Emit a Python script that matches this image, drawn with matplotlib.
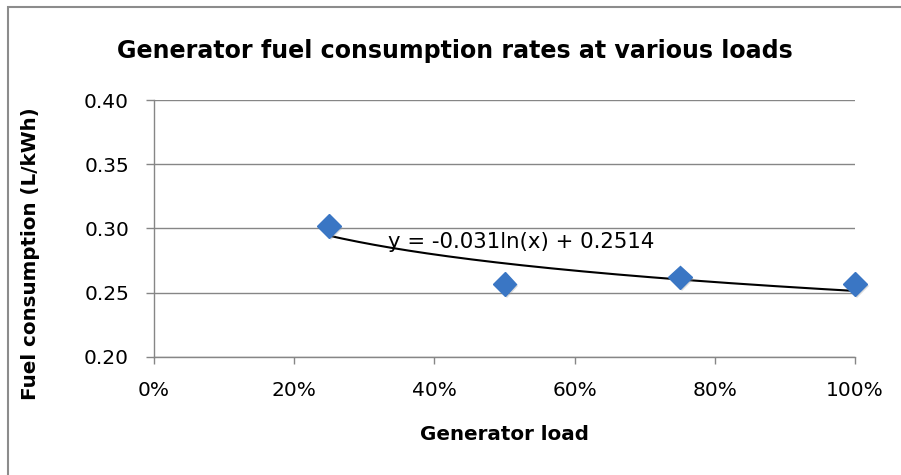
import numpy as np
import matplotlib
matplotlib.use('Agg')
import matplotlib.pyplot as plt
import matplotlib.patheffects as pe
from matplotlib.ticker import PercentFormatter, MultipleLocator
from matplotlib.patches import Rectangle

# datos
carga = [0.25, 0.50, 0.75, 1.00]
consumo = [0.302, 0.257, 0.262, 0.257]

# linea de tendencia logaritmica (coeficientes de la ecuacion mostrada)
coef_a = -0.031
coef_b = 0.2514
texto_tendencia = 'y = -0.031ln(x) + 0.2514'

plt.rcParams['font.family'] = ['DejaVu Sans']

W, H = 901, 475
fig = plt.figure(figsize=(W / 100, H / 100), dpi=100)
ax = fig.add_axes([154 / W, 1 - 357 / H, 701 / W, 257 / H])

# borde exterior del grafico
fig.patches.append(Rectangle((8 / W, -0.1), 2, 1 - 7 / H + 0.1, transform=fig.transFigure,
                             fill=False, edgecolor='#8c8c8c', linewidth=1.5))

gris = '#868686'
ax.grid(axis='y', color=gris, linewidth=1)
ax.set_axisbelow(True)

x_tend = np.linspace(carga[0], carga[-1], 200)
ax.plot(x_tend, coef_a * np.log(x_tend) + coef_b, color='black', linewidth=1.5, zorder=2)

ax.plot(carga, consumo, linestyle='none', marker='D', markersize=12, color='#3a76c4',
        markeredgecolor='#3a76c4', zorder=3, clip_on=False,
        path_effects=[pe.SimplePatchShadow(offset=(1.5, -1.5), shadow_rgbFace='#999999', alpha=0.35),
                      pe.Normal()])

ax.text(0.334, 0.2895, texto_tendencia, fontsize=15.3, va='center', ha='left')

ax.set_xlim(0, 1)
ax.set_ylim(0.20, 0.40)
ax.xaxis.set_major_locator(MultipleLocator(0.2))
ax.xaxis.set_major_formatter(PercentFormatter(1.0, decimals=0))
ax.yaxis.set_major_locator(MultipleLocator(0.05))
ax.yaxis.set_major_formatter(plt.FormatStrFormatter('%.2f'))

for lado in ['top', 'right']:
    ax.spines[lado].set_visible(False)
for lado in ['left', 'bottom']:
    ax.spines[lado].set_color(gris)
    ax.spines[lado].set_linewidth(1)

ax.tick_params(axis='both', colors=gris, labelcolor='black', labelsize=14.5, width=1)
ax.tick_params(axis='y', length=6, pad=12)
ax.tick_params(axis='x', length=5, pad=12)

# titulos colocados como en el original
fig.text(455 / W, 1 - 51 / H, 'Generator fuel consumption rates at various loads',
         fontsize=17.1, fontweight='bold', ha='center', va='center')
fig.text(504 / W, 1 - 434 / H, 'Generator load', fontsize=14.3, fontweight='bold',
         ha='center', va='center')
fig.text(31 / W, 1 - 254 / H, 'Fuel consumption (L/kWh)', fontsize=14.3, fontweight='bold',
         ha='center', va='center', rotation=90)

fig.savefig('out.png', dpi=100)
